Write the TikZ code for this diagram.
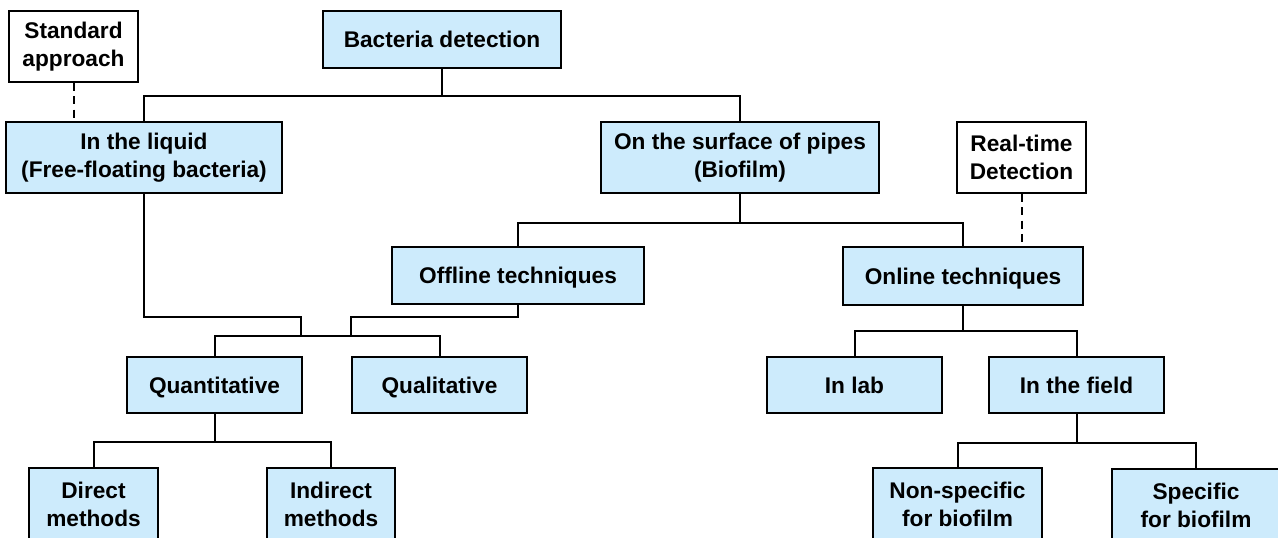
\documentclass[tikz,border=0pt]{standalone}
\usepackage{fontspec}
\setmainfont{Liberation Sans}
\usepackage{tikz}

\newcommand{\pxu}{0.75pt}
\definecolor{boxblue}{RGB}{205,235,252}

\tikzset{
	box/.style={shape=rectangle, draw=black, line width=1.5pt, fill=boxblue, align=center,
		inner sep=0pt, font=\fontsize{17}{21}\selectfont\bfseries},
	notebox/.style={box, fill=white},
	oneline/.style={text height=12.2pt, text depth=0pt},
	link/.style={line width=1.5pt},
	notelink/.style={link, dash pattern=on 6pt off 4pt},
}

\begin{document}
\begin{tikzpicture}[x=\pxu, y=-\pxu]
	
	\path[use as bounding box, clip] (0,0) rectangle (1278,538);
	\fill[white] (0,0) rectangle (1278,538);
	
	\node[notebox, minimum width=129*\pxu, minimum height=71*\pxu] (std) at (73.5, 46.5) {Standard\\approach};
	\node[box, oneline, minimum width=238*\pxu, minimum height=57*\pxu] (bd) at (442, 39.5) {Bacteria detection};
	
	\node[box, minimum width=276*\pxu, minimum height=71*\pxu] (liq) at (144, 157.5) {In the liquid\\(Free-floating bacteria)};
	\node[box, minimum width=278*\pxu, minimum height=71*\pxu] (surf) at (740, 157.5) {On the surface of pipes\\(Biofilm)};
	\node[notebox, minimum width=129*\pxu, minimum height=71*\pxu] (rt) at (1021.5, 157.5) {Real-time\\Detection};
	
	\node[box, oneline, minimum width=252*\pxu, minimum height=57*\pxu] (off) at (518, 275.5) {Offline techniques};
	\node[box, oneline, minimum width=240*\pxu, minimum height=58*\pxu] (onl) at (963, 276) {Online techniques};
	
	\node[box, oneline, minimum width=175*\pxu, minimum height=56*\pxu] (quant) at (214.5, 385) {Quantitative};
	\node[box, oneline, minimum width=175*\pxu, minimum height=56*\pxu] (qual) at (439.5, 385) {Qualitative};
	\node[box, oneline, minimum width=175*\pxu, minimum height=56*\pxu] (lab) at (854.5, 385) {In lab};
	\node[box, oneline, minimum width=175*\pxu, minimum height=56*\pxu] (field) at (1076.5, 385) {In the field};
	
	\node[box, minimum width=129*\pxu, minimum height=72*\pxu] (dir) at (93.5, 504) {Direct\\methods};
	\node[box, minimum width=128*\pxu, minimum height=72*\pxu] (ind) at (331, 504) {Indirect\\methods};
	\node[box, minimum width=169*\pxu, minimum height=72*\pxu] (nsp) at (957.5, 504) {Non-specific\\for biofilm};
	\node[box, minimum width=168*\pxu, minimum height=72*\pxu] (spc) at (1196, 505) {Specific\\for biofilm};
	
	\coordinate (jl) at (301, 317);
	\coordinate (jr) at (351, 317);
	
	\draw[notelink] (std.south) -- (std.south |- liq.north);
	\draw[notelink] (rt.south) -- (rt.south |- onl.north);
	
	\draw[link] (bd.south) -- ++(0,27) -| (liq.north);
	\draw[link] (bd.south) -- ++(0,27) -| (surf.north);
	
	\draw[link] (surf.south) -- ++(0,29) -| (off.north);
	\draw[link] (surf.south) -- ++(0,29) -| (onl.north);
	
	\draw[link] (liq.south) |- (jl) -- ++(0,20);
	\draw[link] (off.south) |- (jr) -- ++(0,20);
	\draw[link] (quant.north) -- ++(0,-20) -| (qual.north);
	
	\draw[link] (onl.south) -- ++(0,25) -| (lab.north);
	\draw[link] (onl.south) -- ++(0,25) -| (field.north);
	
	\draw[link] (quant.south) -- ++(0,28) -| (dir.north);
	\draw[link] (quant.south) -- ++(0,28) -| (ind.north);
	
	\draw[link] (field.south) -- ++(0,29) -| (nsp.north);
	\draw[link] (field.south) -- ++(0,29) -| (spc.north);
	
\end{tikzpicture}
\end{document}
